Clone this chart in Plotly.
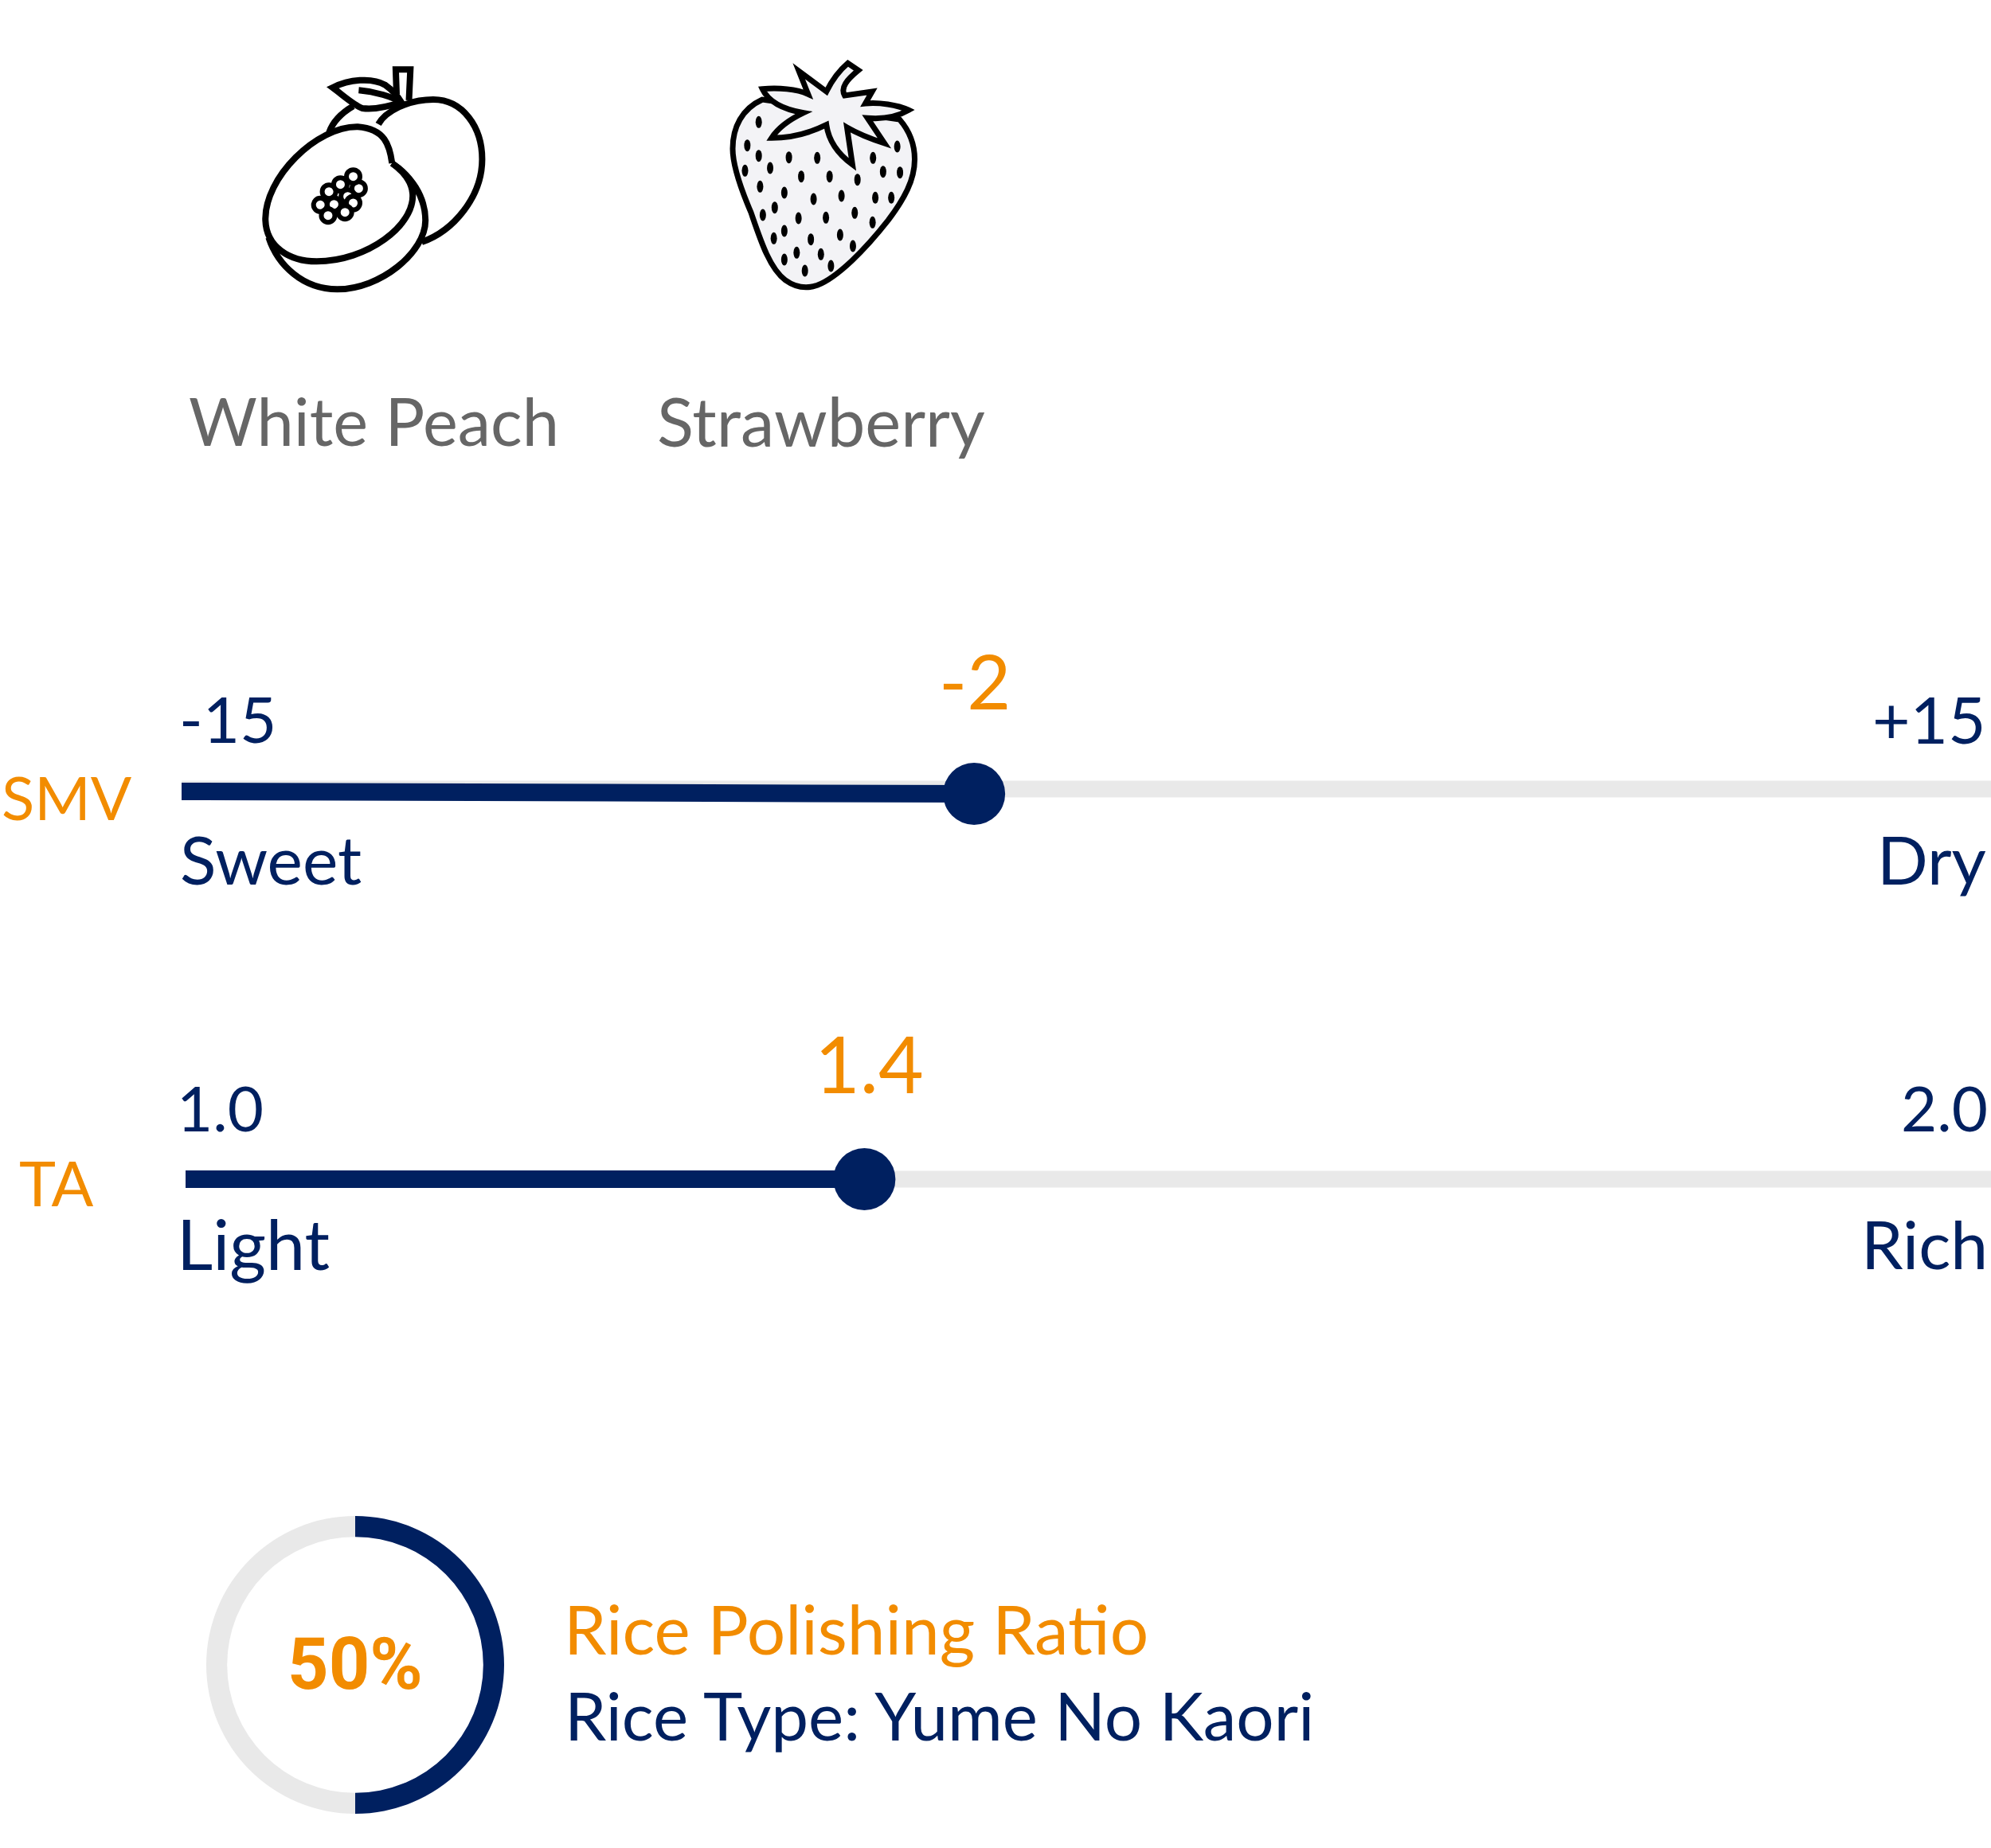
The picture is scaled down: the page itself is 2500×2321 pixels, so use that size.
import re
import plotly.graph_objects as go

# slider values
smv_range = [-15, 15]
smv_position = -1.86
smv_value_label = "-2"
ta_range = [1.0, 2.0]
ta_position = 1.376
ta_value_label = "1.4"

# rice polishing donut
polish_values = [50, 50]
polish_label = "50%"

flavor_labels = ["White Peach", "Strawberry"]
smv_labels = ["-15", "+15", "Sweet", "Dry"]
ta_labels = ["1.0", "2.0", "Light", "Rich"]
row_labels = ["SMV", "TA"]
rice_labels = ["Rice Polishing Ratio", "Rice Type: Yume No Kaori"]

NAVY = "#002060"
ORANGE = "#f28c00"
TRACK = "#e9e9e9"
GREY_TEXT = "#666666"
FONT = "Lato"

W, H = 2500, 2321


def to_px(path):
    # icons were traced on a crop, move them back to page pixels
    def conv(m):
        x = 300 + float(m.group(1)) / 1.742
        y = 50 + float(m.group(2)) / 3
        return f"{x:.1f} {y:.1f}"
    return re.sub(r"(\d+) (\d+)", conv, path)


peach_paths = [
    "M 305 318 C 320 270 370 225 425 225 C 490 225 532 330 532 450 C 532 590 470 720 400 762",
    "M 197 350 C 205 310 225 275 250 250",
    "M 65 745 C 85 850 140 940 215 940 C 310 940 408 800 408 680 C 408 590 375 510 335 465",
    "M 335 465 C 330 400 320 335 260 328 C 170 325 55 520 58 680 C 60 780 110 835 170 835 C 280 835 385 700 380 580 C 378 530 355 490 335 465",
    "M 205 180 C 240 150 290 140 320 170 C 340 195 350 220 355 235 C 330 250 300 265 270 258 C 250 245 225 205 205 180 Z",
    "M 262 190 C 300 195 335 215 355 235",
    "M 345 205 L 343 112 L 375 112 L 372 228",
]
peach_seeds = [(197, 572), (222, 545), (262, 560), (238, 590), (178, 622), (208, 620),
               (250, 615), (195, 662), (232, 650), (250, 515)]

berry_body = ("M 1145 225 C 1100 260 1080 330 1080 410 C 1080 480 1100 570 1120 650 "
              "C 1140 750 1160 860 1195 905 C 1215 930 1240 940 1265 925 "
              "C 1310 895 1370 790 1420 680 C 1455 600 1478 530 1478 450 "
              "C 1478 390 1465 340 1445 300 Z")
berry_calyx = ("M 1145 185 C 1180 180 1220 185 1245 205 L 1225 118 L 1285 195 "
               "C 1295 160 1310 120 1332 88 L 1355 115 C 1330 150 1315 180 1325 210 "
               "L 1385 195 L 1370 240 C 1400 235 1440 245 1465 265 C 1440 290 1410 300 1375 295 "
               "L 1412 390 C 1385 375 1360 360 1330 330 L 1342 470 C 1310 430 1290 380 1285 320 "
               "C 1250 350 1210 370 1165 370 C 1180 330 1205 300 1235 275 C 1200 265 1160 240 1145 185 Z")
berry_seeds = [(1137, 310), (1112, 398), (1137, 437), (1203, 443), (1265, 445), (1387, 445),
               (1440, 402), (1107, 493), (1162, 483), (1230, 515), (1292, 515), (1353, 527),
               (1409, 497), (1446, 500), (1140, 553), (1193, 576), (1257, 600), (1318, 588),
               (1392, 595), (1427, 595), (1172, 632), (1146, 660), (1224, 672), (1284, 670),
               (1347, 652), (1386, 688), (1193, 720), (1170, 748), (1251, 752), (1315, 735),
               (1343, 777), (1220, 802), (1273, 808), (1193, 828), (1295, 852), (1238, 870)]

shapes = []
for p in peach_paths:
    shapes.append(dict(type="path", path=to_px(p), xref="x", yref="y",
                       line=dict(color="black", width=8)))
for sx, sy in peach_seeds:
    cx, cy = 300 + sx / 1.742, 50 + sy / 3
    shapes.append(dict(type="circle", xref="x", yref="y", x0=cx - 8.5, x1=cx + 8.5, y0=cy - 8.5, y1=cy + 8.5,
                       fillcolor="white", line=dict(color="black", width=6)))
shapes.append(dict(type="path", path=to_px(berry_body), xref="x", yref="y",
                   fillcolor="#f3f3f6", line=dict(color="black", width=7)))
shapes.append(dict(type="path", path=to_px(berry_calyx), xref="x", yref="y",
                   fillcolor="#f3f3f6", line=dict(color="black", width=7)))
for sx, sy in berry_seeds:
    cx, cy = 300 + sx / 1.742, 50 + sy / 3
    shapes.append(dict(type="circle", xref="x", yref="y", x0=cx - 4, x1=cx + 4, y0=cy - 7.5, y1=cy + 7.5,
                       fillcolor="black", line=dict(width=0)))

fig = go.Figure()

# SMV slider
fig.add_trace(go.Scatter(x=smv_range, y=[991, 991], mode="lines", xaxis="x2", yaxis="y2",
                         line=dict(color=TRACK, width=21), hoverinfo="skip"))
fig.add_trace(go.Scatter(x=[smv_range[0], smv_position], y=[994, 997], mode="lines", xaxis="x2", yaxis="y2",
                         line=dict(color=NAVY, width=22), hoverinfo="skip"))
fig.add_trace(go.Scatter(x=[smv_position], y=[997], mode="markers", xaxis="x2", yaxis="y2",
                         marker=dict(color=NAVY, size=78), cliponaxis=False))

# TA slider
fig.add_trace(go.Scatter(x=ta_range, y=[1481, 1481], mode="lines", xaxis="x3", yaxis="y3",
                         line=dict(color=TRACK, width=21), hoverinfo="skip"))
fig.add_trace(go.Scatter(x=[ta_range[0], ta_position], y=[1481, 1481], mode="lines", xaxis="x3", yaxis="y3",
                         line=dict(color=NAVY, width=22), hoverinfo="skip"))
fig.add_trace(go.Scatter(x=[ta_position], y=[1481], mode="markers", xaxis="x3", yaxis="y3",
                         marker=dict(color=NAVY, size=78), cliponaxis=False))

# polishing ratio donut
fig.add_trace(go.Pie(values=polish_values, hole=0.86, sort=False, direction="clockwise", rotation=0,
                     marker=dict(colors=[NAVY, TRACK], line=dict(width=0)),
                     textinfo="none", hoverinfo="skip", showlegend=False,
                     domain=dict(x=[(446 - 187) / W, (446 + 187) / W],
                                 y=[1 - (2091 + 187) / H, 1 - (2091 - 187) / H])))


def label(text, x, y, size, color, anchor="left", family=FONT, weight=None):
    font = dict(family=family, size=size, color=color)
    if weight:
        font["weight"] = weight
    fig.add_annotation(text=text, x=x, y=y, xref="x", yref="y", showarrow=False,
                       xanchor=anchor, yanchor="middle", font=font, borderpad=0, borderwidth=0)


label(flavor_labels[0], 237, 528, 83, GREY_TEXT)
label(flavor_labels[1], 825, 528, 85, GREY_TEXT)

label(smv_labels[0], 225, 902, 80, NAVY)
label(smv_labels[1], 2494, 902, 82, NAVY, "right")
label(smv_labels[2], 226, 1078, 84, NAVY)
label(smv_labels[3], 2494, 1078, 84, NAVY, "right")
label(row_labels[0], 2, 1000, 76, ORANGE)
label(smv_value_label, 1179, 854, 95, ORANGE)

label(ta_labels[0], 222, 1391, 78, NAVY)
label(ta_labels[1], 2496, 1391, 78, NAVY, "right")
label(ta_labels[2], 222, 1561, 88, NAVY)
label(ta_labels[3], 2496, 1561, 84, NAVY, "right")
label(row_labels[1], 24, 1485, 78, ORANGE)
label(ta_value_label, 1023, 1335, 98, ORANGE)

label(polish_label, 446, 2090, 90, ORANGE, "center", "Roboto", "bold")
label(rice_labels[0], 708, 2045, 85.5, ORANGE)
label(rice_labels[1], 709, 2153, 83.6, NAVY)

hidden = dict(visible=False, showgrid=False, zeroline=False, type="linear")
fig.update_layout(
    width=W, height=H, margin=dict(l=0, r=0, t=0, b=0), autosize=False,
    # transparent, or the TA subplot background paints over the SMV one
    paper_bgcolor="white", plot_bgcolor="rgba(0,0,0,0)", showlegend=False,
    shapes=shapes,
    xaxis=dict(range=[0, W], domain=[0, 1], **hidden),
    yaxis=dict(range=[H, 0], domain=[0, 1], **hidden),
    xaxis2=dict(range=smv_range, domain=[228 / W, 1], anchor="y2", **hidden),
    yaxis2=dict(range=[H, 0], domain=[0, 1], anchor="x2", **hidden),
    xaxis3=dict(range=ta_range, domain=[233 / W, 1], anchor="y3", **hidden),
    yaxis3=dict(range=[H, 0], domain=[0, 1], anchor="x3", **hidden),
)

# the default page keeps an 8px body margin
fig.write_html("out.html", config=dict(displayModeBar=False),
               post_script="document.body.style.margin = '0';")
